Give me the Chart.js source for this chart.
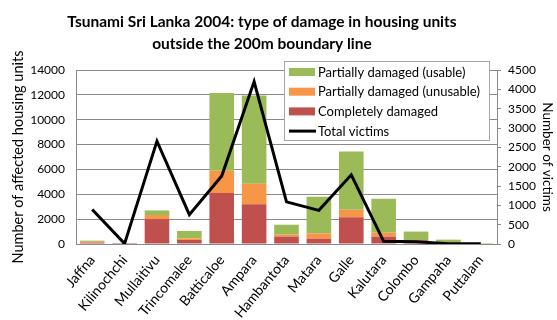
<!DOCTYPE html>
<html>
<head>
<meta charset="utf-8">
<script src="https://cdn.jsdelivr.net/npm/chart.js@4/dist/chart.umd.min.js"></script>
<style>
  html, body { margin: 0; padding: 0; background: #fff; }
  canvas { display: block; }
</style>
</head>
<body>
<canvas id="tsunami" width="557" height="320"></canvas>
<script>
// Districts and housing damage outside the 200m buffer zone
const districts = ['Jaffna','Kilinochchi','Mullaitivu','Trincomalee','Batticaloe','Ampara','Hambantota','Matara','Galle','Kalutara','Colombo','Gampaha','Puttalam'];
const completelyDamaged = [110, 80, 2000, 320, 4100, 3200, 600, 430, 2150, 590, 300, 0, 0];
const partialUnusable   = [70, 0, 330, 130, 1800, 1650, 150, 420, 600, 320, 20, 0, 0];
const partialUsable     = [90, 0, 370, 600, 6250, 7100, 800, 2950, 4700, 2730, 680, 350, 80];
const totalVictims      = [890, 10, 2660, 760, 1760, 4200, 1090, 870, 1790, 70, 60, 5, 5];

const titleLines = ['Tsunami Sri Lanka 2004: type of damage in housing units', 'outside the 200m boundary line'];

const GREEN = '#9BBB59', ORANGE = '#F79646', RED = '#C0504D';
const GRID = '#8a8a8a';
const FONT = 'Lato';

// legend entries, drawn in a boxed key over the top right of the plot
const legendItems = [
  { text: 'Partially damaged (usable)',   color: GREEN },
  { text: 'Partially damaged (unusable)', color: ORANGE },
  { text: 'Completely damaged',           color: RED },
  { text: 'Total victims',                color: '#000', line: true }
];

const decorations = {
  id: 'decorations',
  beforeDraw(chart) {
    const c = chart.ctx;
    c.save();
    c.fillStyle = '#fff';
    c.fillRect(0, 0, chart.width, chart.height);
    c.restore();
  },
  afterDraw(chart) {
    const c = chart.ctx;
    c.save();
    // two-line title
    c.fillStyle = '#000';
    c.font = 'bold 15.5px ' + FONT;
    c.textAlign = 'center';
    c.textBaseline = 'alphabetic';
    c.fillText(titleLines[0], 262, 27, 396);
    c.fillText(titleLines[1], 262, 49, 396);

    // legend box
    c.fillStyle = '#fff';
    c.fillRect(284.5, 61.5, 205, 79);
    c.strokeStyle = '#a6a6a6';
    c.lineWidth = 1;
    c.strokeRect(284.5, 61.5, 205, 79);
    c.font = '13px ' + FONT;
    c.textAlign = 'left';
    c.textBaseline = 'middle';
    legendItems.forEach((it, i) => {
      const y = 72 + i * 19.7;
      if (it.line) {
        c.strokeStyle = it.color;
        c.lineWidth = 3;
        c.beginPath();
        c.moveTo(289, y);
        c.lineTo(316, y);
        c.stroke();
      } else {
        c.fillStyle = it.color;
        c.fillRect(289, y - 4, 26, 8);
      }
      c.fillStyle = '#000';
      c.fillText(it.text, 318, y + 0.5, 168);
    });
    c.restore();
  }
};

const plainTick = v => String(v);

new Chart(document.getElementById('tsunami'), {
  data: {
    labels: districts,
    datasets: [
      { type: 'line', label: 'Total victims', data: totalVictims, yAxisID: 'y1', order: 0,
        borderColor: '#000', borderWidth: 3, pointRadius: 0, tension: 0, fill: false },
      { type: 'bar', label: 'Completely damaged', data: completelyDamaged, backgroundColor: RED,
        stack: 'h', order: 1, barPercentage: 0.76, categoryPercentage: 1 },
      { type: 'bar', label: 'Partially damaged (unusable)', data: partialUnusable, backgroundColor: ORANGE,
        stack: 'h', order: 1, barPercentage: 0.76, categoryPercentage: 1 },
      { type: 'bar', label: 'Partially damaged (usable)', data: partialUsable, backgroundColor: GREEN,
        stack: 'h', order: 1, barPercentage: 0.76, categoryPercentage: 1 }
    ]
  },
  options: {
    responsive: false,
    animation: false,
    layout: { padding: { top: 70, left: 0, right: 0, bottom: 0 } },
    plugins: {
      legend: { display: false },
      title: { display: false },
      tooltip: { enabled: false }
    },
    scales: {
      x: {
        stacked: true,
        grid: { display: false, drawTicks: false },
        border: { color: GRID },
        ticks: { color: '#000', font: { family: FONT, size: 14 }, minRotation: 50, maxRotation: 50, padding: 8, autoSkip: false },
        afterFit: s => { s.height = 76; }
      },
      y: {
        stacked: true,
        min: 0, max: 14000,
        grid: { color: GRID, drawTicks: false },
        border: { color: GRID },
        ticks: { stepSize: 2000, color: '#000', font: { family: FONT, size: 12 }, padding: 11, callback: plainTick },
        title: { display: true, text: 'Number of affected housing units', color: '#000',
                 font: { family: FONT, size: 14.5 }, padding: { top: 10, bottom: 0 } },
        afterFit: s => { s.width = 76; }
      },
      y1: {
        position: 'right',
        min: 0, max: 4500,
        grid: { drawOnChartArea: false, color: GRID, tickLength: 4 },
        border: { color: GRID },
        ticks: { stepSize: 500, color: '#000', font: { family: FONT, size: 12 }, padding: 7, callback: plainTick },
        title: { display: true, text: 'Number of victims', color: '#000',
                 font: { family: FONT, size: 13.5 }, padding: { top: 2, bottom: 0 } },
        afterFit: s => { s.width = 60; }
      }
    }
  },
  plugins: [decorations]
});
</script>
</body>
</html>
